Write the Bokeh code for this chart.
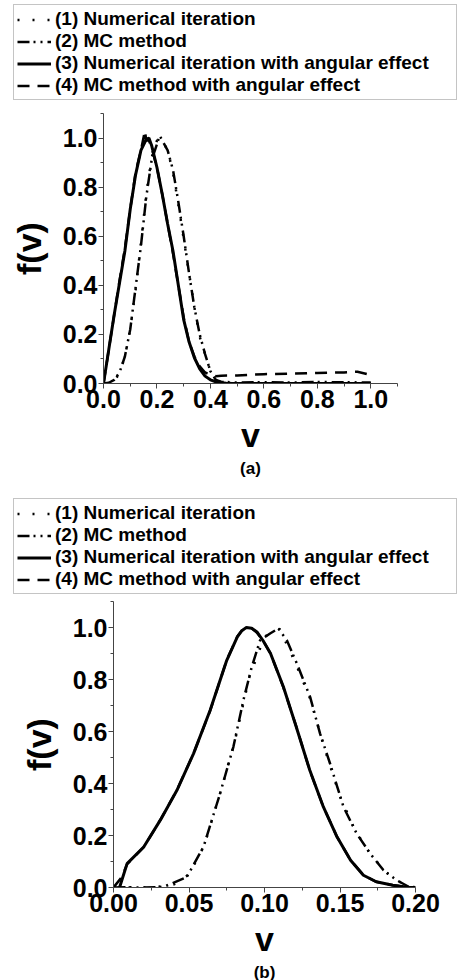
from bokeh.plotting import figure
from bokeh.layouts import column, row
from bokeh.models import Legend, LegendItem, FixedTicker, PrintfTickFormatter, Title, Range1d
from bokeh.embed import file_html
from bokeh.resources import INLINE

FONT = "Liberation Sans"

# ---------------- data ----------------
labels = ["(1) Numerical iteration",
          "(2) MC method",
          "(3) Numerical iteration with angular effect",
          "(4) MC method with angular effect"]

# panel (a)
va_num = [0, 0.02, 0.04, 0.06, 0.08, 0.10, 0.12, 0.14, 0.16, 0.18, 0.20, 0.21, 0.22, 0.24,
          0.26, 0.28, 0.30, 0.32, 0.34, 0.36, 0.38, 0.40, 0.42, 0.44, 0.46, 0.50, 0.60,
          0.70, 0.80, 0.90, 1.00]
fa_1 = [0, 0.002, 0.012, 0.04, 0.11, 0.22, 0.38, 0.57, 0.77, 0.92, 0.99, 1.0, 0.99, 0.95,
        0.86, 0.73, 0.59, 0.45, 0.31, 0.19, 0.12, 0.05, 0.015, 0.006, 0.002, 0.001, 0,
        0, 0, 0, 0]

va_mc = [0, 0.02, 0.04, 0.06, 0.08, 0.10, 0.12, 0.14, 0.16, 0.18, 0.20, 0.21, 0.22, 0.24,
         0.26, 0.28, 0.30, 0.32, 0.34, 0.36, 0.38, 0.40, 0.42, 0.44, 0.50, 0.60, 0.70,
         0.80, 0.90, 1.00]
fa_2 = [0, 0.003, 0.015, 0.045, 0.11, 0.22, 0.39, 0.56, 0.76, 0.91, 0.975, 1.01, 0.99,
        0.95, 0.87, 0.74, 0.60, 0.45, 0.31, 0.20, 0.12, 0.05, 0.015, 0.007, 0.004, 0.005,
        0.004, 0.006, 0.005, 0.004]

va_ang = [0, 0.02, 0.04, 0.06, 0.08, 0.10, 0.12, 0.14, 0.16, 0.17, 0.18, 0.20, 0.22, 0.24,
          0.26, 0.28, 0.30, 0.32, 0.34, 0.36, 0.38, 0.40, 0.42, 0.44, 0.46, 0.50, 0.60,
          0.70, 0.80, 0.90, 1.00]
fa_3 = [0, 0.14, 0.28, 0.41, 0.54, 0.71, 0.85, 0.95, 0.995, 1.0, 0.97, 0.88, 0.77, 0.65,
        0.54, 0.40, 0.26, 0.17, 0.105, 0.06, 0.03, 0.015, 0.007, 0.003, 0.001, 0, 0,
        0, 0, 0, 0]

va_mca = [0, 0.02, 0.04, 0.06, 0.08, 0.10, 0.12, 0.14, 0.155, 0.16, 0.17, 0.18, 0.20, 0.22,
          0.24, 0.26, 0.28, 0.30, 0.32, 0.34, 0.36, 0.38, 0.40, 0.42, 0.44, 0.50, 0.60,
          0.70, 0.80, 0.90, 0.95, 1.00]
fa_4 = [0, 0.14, 0.28, 0.42, 0.55, 0.71, 0.86, 0.95, 1.03, 0.99, 0.99, 0.96, 0.88, 0.77,
        0.65, 0.53, 0.40, 0.27, 0.17, 0.11, 0.07, 0.045, 0.035, 0.03, 0.032, 0.033, 0.038,
        0.04, 0.043, 0.045, 0.048, 0.035]

# panel (b)
vb_num = [0, 0.02, 0.03, 0.04, 0.05, 0.06, 0.07, 0.08, 0.09, 0.10, 0.11, 0.12, 0.13, 0.14,
          0.15, 0.16, 0.17, 0.18, 0.19, 0.20]
fb_1 = [0, 0.0, 0.003, 0.012, 0.05, 0.16, 0.35, 0.555, 0.81, 0.965, 0.995, 0.87, 0.73,
        0.53, 0.35, 0.22, 0.13, 0.06, 0.02, 0.0]

vb_mc = [0, 0.01, 0.02, 0.033, 0.0485, 0.0596, 0.0706, 0.0794, 0.086, 0.0916, 0.0971,
         0.1037, 0.1092, 0.1148, 0.1214, 0.1302, 0.1368, 0.1434, 0.1523, 0.161, 0.1699,
         0.1787, 0.1876, 0.1964, 0.2]
fb_2 = [0, 0.001, 0.0, 0.002, 0.04, 0.156, 0.362, 0.541, 0.72, 0.849, 0.951, 0.977, 0.996,
        0.951, 0.862, 0.733, 0.592, 0.477, 0.31, 0.208, 0.131, 0.067, 0.028, 0.0, 0.0]

vb_ang = [0.004, 0.009, 0.02, 0.031, 0.042, 0.053, 0.064, 0.075, 0.082, 0.085, 0.088,
          0.0915, 0.095, 0.099, 0.104, 0.1125, 0.121, 0.13, 0.139, 0.148, 0.157, 0.1655,
          0.174, 0.185, 0.196, 0.2]
fb_3 = [0, 0.092, 0.156, 0.259, 0.374, 0.515, 0.682, 0.874, 0.964, 0.988, 1.0, 0.997,
        0.983, 0.95, 0.9, 0.772, 0.618, 0.451, 0.31, 0.195, 0.105, 0.047, 0.022, 0.009,
        0.0, 0.0]

vb_mca = [0, 0.0055, 0.009, 0.02, 0.031, 0.042, 0.053, 0.064, 0.075, 0.082, 0.085, 0.089,
          0.0915, 0.095, 0.099, 0.104, 0.1125, 0.121, 0.13, 0.139, 0.148, 0.157, 0.1655,
          0.174, 0.185, 0.196, 0.2]
fb_4 = [0, 0.04, 0.09, 0.155, 0.26, 0.375, 0.515, 0.68, 0.875, 0.965, 0.988, 1.0, 0.997,
        0.98, 0.95, 0.9, 0.77, 0.62, 0.45, 0.31, 0.195, 0.105, 0.048, 0.022, 0.009, 0.0,
        0.0]

xticks_a = [0.0, 0.2, 0.4, 0.6, 0.8, 1.0]
xminor_a = [0.1, 0.3, 0.5, 0.7, 0.9, 1.1]
xticks_b = [0.0, 0.05, 0.10, 0.15, 0.20]
xminor_b = [0.025, 0.075, 0.125, 0.175]
yticks = [0.0, 0.2, 0.4, 0.6, 0.8, 1.0]
yminor = [0.1, 0.3, 0.5, 0.7, 0.9, 1.1]

# ---------------- styles ----------------
STYLES = [dict(line_dash="2 13", line_width=2.5),
          dict(line_dash="12 4 2 5 2 5", line_width=2.5),
          dict(line_dash="solid", line_width=3),
          dict(line_dash="12 8", line_width=2.5)]
AX = "#444444"


def legend_fig(height, series):
    # the series are drawn here only to give the legend its glyphs; the
    # y range keeps them out of view in this strip
    lf = figure(width=458, height=height, x_range=Range1d(0, 1), y_range=Range1d(5, 6),
                x_axis_type=None, y_axis_type=None, toolbar_location=None,
                output_backend="svg", min_border=0, min_border_left=9)
    lf.outline_line_color = None
    items = []
    for lab, (v, f), st in zip(labels, series, STYLES):
        r = lf.line(v, f, line_color="black", **st)
        items.append(LegendItem(label=lab, renderers=[r]))
    leg = Legend(items=items, location="top_left", margin=4, padding=3, spacing=0,
                 glyph_width=34, glyph_height=21, label_height=21, label_width=398,
                 label_standoff=4, label_text_font=FONT, label_text_font_style="bold",
                 label_text_font_size="19px", label_text_color="black",
                 border_line_color="#8a8a8a", border_line_width=1,
                 background_fill_alpha=0)
    lf.add_layout(leg, "center")
    return lf


def panel(series, xmax, xticks, xminor, fmt, fw, fh, left, right, top, bottom, tag):
    p = figure(frame_width=fw, frame_height=fh, x_range=Range1d(0, xmax),
               y_range=Range1d(0, 1.1), toolbar_location=None, output_backend="svg",
               min_border_left=left, min_border_right=right, min_border_top=top,
               min_border_bottom=bottom)
    p.grid.visible = False
    p.outline_line_color = None
    for (v, f), st in zip(series, STYLES):
        p.line(v, f, line_color="black", **st)
    xa, ya = p.xaxis[0], p.yaxis[0]
    for ax in (xa, ya):
        ax.axis_line_color = AX
        ax.axis_line_width = 1
        ax.major_tick_line_color = AX
        ax.minor_tick_line_color = AX
        ax.major_tick_in = 0
        ax.major_tick_out = 5
        ax.minor_tick_in = 0
        ax.minor_tick_out = 3
        ax.major_label_text_font = FONT
        ax.major_label_text_font_style = "bold"
        ax.major_label_text_font_size = "25px"
        ax.major_label_text_color = "black"
        ax.axis_label_text_font = FONT
        ax.axis_label_text_font_style = "bold"
        ax.axis_label_text_font_size = "34px"
        ax.axis_label_text_color = "black"
        ax.major_label_standoff = 1
    xa.axis_label = "v"
    ya.axis_label = "f(v)"
    xa.axis_label_standoff = 5
    ya.axis_label_standoff = 12
    xa.ticker = FixedTicker(ticks=xticks, minor_ticks=xminor)
    ya.ticker = FixedTicker(ticks=yticks, minor_ticks=yminor)
    xa.formatter = PrintfTickFormatter(format=fmt)
    ya.formatter = PrintfTickFormatter(format="%.1f")
    p.add_layout(Title(text=tag, align="center", text_font=FONT, text_font_style="bold",
                       text_font_size="17px", text_color="black", standoff=0), "below")
    return p


series_a = [(va_num, fa_1), (va_mc, fa_2), (va_ang, fa_3), (va_mca, fa_4)]
series_b = [(vb_num, fb_1), (vb_mc, fb_2), (vb_ang, fb_3), (vb_mca, fb_4)]

leg_a = legend_fig(108, series_a)
pa = panel(series_a, 1.1, xticks_a, xminor_a, "%.1f", 294, 270, 103, 61, 5, 111, "(a)")
leg_b = legend_fig(100, series_b)
pb = panel(series_b, 0.2, xticks_b, xminor_b, "%.2f", 302, 286, 113, 43, 7, 93, "(b)")

layout = column(row(leg_a), row(pa), row(leg_b), row(pb), spacing=0)
open("out.html", "w").write(file_html(layout, INLINE))
